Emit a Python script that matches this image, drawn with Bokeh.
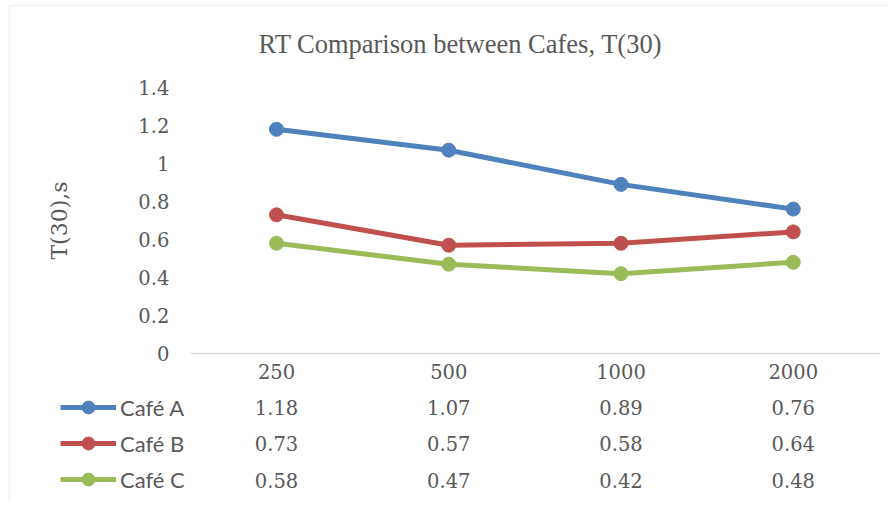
from bokeh.plotting import figure
from bokeh.models import (Range1d, FixedTicker, Label, Legend, LegendItem, BoxAnnotation, LinearAxis)
from bokeh.core.properties import value
from bokeh.embed import file_html
from bokeh.resources import INLINE

# ---- data ----
categories = ["250", "500", "1000", "2000"]
series_names = ["Café A", "Café B", "Café C"]
cafe_a = [1.18, 1.07, 0.89, 0.76]
cafe_b = [0.73, 0.57, 0.58, 0.64]
cafe_c = [0.58, 0.47, 0.42, 0.48]
y_ticks = [0, 0.2, 0.4, 0.6, 0.8, 1.0, 1.2, 1.4]
y_tick_labels = ["0", "0.2", "0.4", "0.6", "0.8", "1", "1.2", "1.4"]
colors = ["#4F81BD", "#C0504D", "#9BBB59"]
title_text = "RT Comparison between Cafes, T(30)"
y_label = "T(30),s"

# ---- layout constants (pixels) ----
W, H = 888, 502
PX_X0, PX_DX = 276, 172.25          # first category centre, category width
PX_Y0, PX_UNIT = 353, 190           # y=0 position, pixels per 1.0
GREY = "#595959"
NUM_FONT = "DejaVu Serif"
NUM_SIZE = "19.5px"

def dx(px):
    return (px - PX_X0) / PX_DX

def dy(py):
    return (PX_Y0 - py) / PX_UNIT

xs = list(range(len(categories)))

p = figure(width=W, height=H, output_backend="svg", toolbar_location=None,
           x_range=Range1d(dx(0), dx(W)), y_range=Range1d(dy(H), dy(0)),
           x_axis_location=None, y_axis_location=None, title=None,
           min_border=0)
p.outline_line_color = None
p.xgrid.visible = False
p.ygrid.visible = False
p.background_fill_color = "white"
p.border_fill_color = "white"

# y axis
ya = LinearAxis(fixed_location=-0.5, bounds=(0, 1.4))
ya.ticker = FixedTicker(ticks=y_ticks)
ya.major_label_overrides = {t: l for t, l in zip(y_ticks, y_tick_labels)}
ya.axis_line_color = None
ya.major_tick_line_color = None
ya.minor_tick_line_color = None
ya.major_tick_out = 0
ya.major_tick_in = 0
ya.major_label_standoff = 21
ya.major_label_text_font = NUM_FONT
ya.major_label_text_font_size = NUM_SIZE
ya.major_label_text_color = GREY
ya.axis_label = y_label
ya.axis_label_text_font = NUM_FONT
ya.axis_label_text_font_size = "22px"
ya.axis_label_text_font_style = "normal"
ya.axis_label_text_color = GREY
ya.axis_label_standoff = 63
p.add_layout(ya, "left")

# x axis
xa = LinearAxis(fixed_location=0, bounds=(-0.5, len(categories) - 0.5))
xa.ticker = FixedTicker(ticks=xs)
xa.major_label_overrides = {i: c for i, c in zip(xs, categories)}
xa.axis_line_color = "#D9D9D9"
xa.axis_line_width = 1.5
xa.major_tick_line_color = None
xa.minor_tick_line_color = None
xa.major_tick_out = 0
xa.major_tick_in = 0
xa.major_label_standoff = 10
xa.major_label_text_font = NUM_FONT
xa.major_label_text_font_size = NUM_SIZE
xa.major_label_text_color = GREY
p.add_layout(xa, "below")

# outer chart frame (left + top edges visible)
p.add_layout(BoxAnnotation(left=dx(9), right=100, top=dy(5), bottom=-100,
                           fill_alpha=0, line_color="#D9D9D9", line_width=2))

# title
p.add_layout(Label(x=dx(460), y=dy(43), text=title_text,
                   text_align="center", text_baseline="middle",
                   text_font="Liberation Serif", text_font_size="26.5px", text_color=GREY))

items = []
all_series = [cafe_a, cafe_b, cafe_c]
row_py = [407, 443, 480]
for name, vals, col, ry in zip(series_names, all_series, colors, row_py):
    l = p.line(xs, vals, line_color=col, line_width=5)
    s = p.scatter(xs, vals, marker="circle", size=14, fill_color=col, line_color=col)
    items.append(LegendItem(label=name, renderers=[l, s]))
    p.text(x=xs, y=[dy(ry)] * len(xs), text=[f"{v:.2f}" for v in vals],
           text_align="center", text_baseline="middle",
           text_font=value(NUM_FONT), text_font_size=value(NUM_SIZE), text_color=GREY)

legend = Legend(items=items, location=(60, H - 495), orientation="vertical",
                glyph_width=56, glyph_height=32, label_height=32, spacing=4,
                padding=0, margin=0, label_standoff=4,
                border_line_color=None, background_fill_alpha=0,
                label_text_font="Lato", label_text_font_size="22px", label_text_color=GREY)
p.add_layout(legend)

open("out.html", "w").write(file_html(p, INLINE))
